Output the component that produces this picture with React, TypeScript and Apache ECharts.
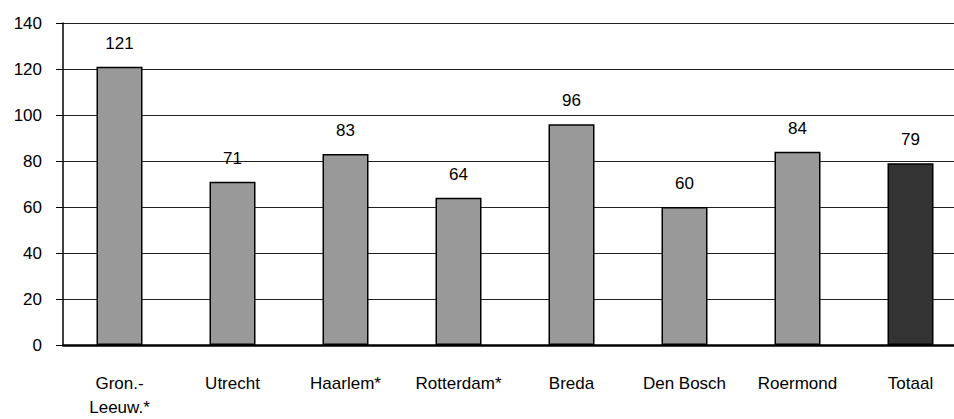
import React, { useEffect, useRef } from "react";
import * as echarts from "echarts";

const categories = ["Gron.-\nLeeuw.*", "Utrecht", "Haarlem*", "Rotterdam*", "Breda", "Den Bosch", "Roermond", "Totaal"];
const values = [121, 71, 83, 64, 96, 60, 84, 79];
const barColors = ["#999999", "#999999", "#999999", "#999999", "#999999", "#999999", "#999999", "#333333"];
const yTicks = { min: 0, max: 140, interval: 20 };

const FONT = "'Liberation Sans Narrow', 'Arial Narrow', 'Liberation Sans', sans-serif";

export default function App() {
  const ref = useRef<HTMLDivElement>(null);
  useEffect(() => {
    if (!ref.current) return;
    const chart = echarts.init(ref.current, null, { renderer: "svg" });
    chart.setOption({
      animation: false,
      backgroundColor: "#ffffff",
      grid: { left: 63, width: 904, top: 23, height: 322, containLabel: false, outerBoundsMode: "none" },
      xAxis: {
        type: "category",
        data: categories,
        axisLine: { show: true, lineStyle: { color: "#000", width: 2.5 } },
        axisTick: { show: false },
        axisLabel: {
          interval: 0,
          color: "#000",
          fontFamily: FONT,
          fontSize: 17,
          margin: 26,
          lineHeight: 24,
        },
      },
      yAxis: {
        type: "value",
        min: yTicks.min,
        max: yTicks.max,
        interval: yTicks.interval,
        axisLine: { show: true, lineStyle: { color: "#000", width: 1.5 } },
        axisTick: { show: true, length: 7, lineStyle: { color: "#000", width: 1 } },
        axisLabel: { color: "#000", fontFamily: FONT, fontSize: 17, margin: 21 },
        splitLine: { show: true, lineStyle: { color: "#222", width: 1 } },
      },
      series: [
        {
          type: "bar",
          data: values.map((v, i) => ({ value: v, itemStyle: { color: barColors[i] } })),
          barWidth: 46,
          itemStyle: { borderColor: "#000", borderWidth: 1.5 },
          label: {
            show: true,
            position: "top",
            distance: 15,
            color: "#000",
            fontFamily: FONT,
            fontSize: 17,
          },
        },
      ],
    });
    return () => chart.dispose();
  }, []);
  return <div ref={ref} style={{ width: 954, height: 419, position: "absolute", left: 0, top: 0 }} />;
}
